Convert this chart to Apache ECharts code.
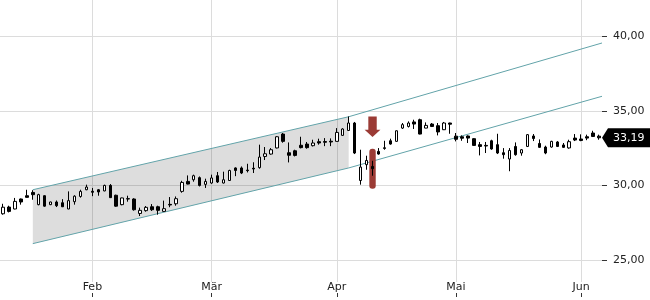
<!DOCTYPE html>
<html><head><meta charset="utf-8">
<script src="https://cdn.jsdelivr.net/npm/echarts@6/dist/echarts.min.js"></script>
<style>html,body{margin:0;padding:0;background:#fff}#c{width:650px;height:300px}</style>
</head><body><div id="c"></div>
<script>
// Trading days (category axis)
const dates = [
 '2025-01-13','2025-01-14','2025-01-15','2025-01-16','2025-01-17','2025-01-20','2025-01-21','2025-01-22','2025-01-23','2025-01-24',
 '2025-01-27','2025-01-28','2025-01-29','2025-01-30','2025-01-31',
 '2025-02-03','2025-02-04','2025-02-05','2025-02-06','2025-02-07','2025-02-10','2025-02-11','2025-02-12','2025-02-13','2025-02-14',
 '2025-02-17','2025-02-18','2025-02-19','2025-02-20','2025-02-21','2025-02-24','2025-02-25','2025-02-26','2025-02-27','2025-02-28',
 '2025-03-03','2025-03-04','2025-03-05','2025-03-06','2025-03-07','2025-03-10','2025-03-11','2025-03-12','2025-03-13','2025-03-14',
 '2025-03-17','2025-03-18','2025-03-19','2025-03-20','2025-03-21','2025-03-24','2025-03-25','2025-03-26','2025-03-27','2025-03-28','2025-03-31',
 '2025-04-01','2025-04-02','2025-04-03','2025-04-04','2025-04-07','2025-04-08','2025-04-09','2025-04-10','2025-04-11','2025-04-14',
 '2025-04-15','2025-04-16','2025-04-17','2025-04-22','2025-04-23','2025-04-24','2025-04-25','2025-04-28','2025-04-29','2025-04-30',
 '2025-05-02','2025-05-05','2025-05-06','2025-05-07','2025-05-08','2025-05-09','2025-05-12','2025-05-13','2025-05-14','2025-05-15',
 '2025-05-16','2025-05-19','2025-05-20','2025-05-21','2025-05-22','2025-05-23','2025-05-26','2025-05-27','2025-05-28','2025-05-29','2025-05-30',
 '2025-06-02','2025-06-03','2025-06-04','2025-06-05'
];
const open = [
 28.10,28.55,28.42,29.09,29.31,29.53,28.71,29.31,28.71,28.89,
 28.84,28.42,28.91,29.26,29.71,29.61,29.71,29.63,30.00,29.34,
 28.71,29.11,29.09,28.12,28.31,28.57,28.57,28.26,28.73,28.77,
 29.60,30.27,30.38,30.52,30.07,30.16,30.65,30.16,30.33,31.17,
 31.17,31.03,31.15,31.19,31.94,32.10,32.51,33.44,32.19,32.32,
 32.69,32.77,32.66,32.93,32.94,32.96,32.95,33.35,33.68,34.18,
 30.33,31.39,31.27,32.28,32.52,32.99,32.95,33.84,33.95,34.25,
 34.40,33.84,34.11,34.00,33.73,34.18,33.30,33.26,33.31,33.13,
 32.73,32.68,32.99,32.73,32.19,31.77,32.61,32.17,32.61,33.31,
 32.81,32.57,32.57,32.91,32.71,32.51,33.17,33.11,33.26,33.51,
 33.30
];
const close = [
 28.54,28.26,28.93,28.89,29.20,29.38,29.38,28.61,28.89,28.64,
 28.57,28.98,29.28,29.60,29.89,29.54,29.56,30.00,29.18,28.61,
 29.16,29.09,28.37,28.33,28.53,28.37,28.33,28.44,28.69,29.11,
 30.20,30.09,30.65,30.00,30.27,30.50,30.23,30.38,31.00,31.00,
 30.83,30.99,31.10,31.90,32.12,32.39,33.26,32.95,32.02,32.01,
 32.53,32.53,32.84,32.84,32.89,32.91,33.55,33.78,34.18,32.17,
 31.23,31.67,31.12,32.10,32.48,32.77,33.66,34.07,34.18,34.11,
 33.44,34.02,33.95,33.58,34.18,34.10,33.09,33.16,33.17,32.68,
 32.61,32.64,32.44,32.17,32.06,32.34,32.06,32.39,33.40,33.14,
 32.55,32.17,32.95,32.61,32.55,32.93,33.04,33.01,33.17,33.28,
 33.19
];
const low = [
 28.04,28.19,28.40,28.71,29.18,29.04,28.67,28.57,28.68,28.55,
 28.55,28.41,28.71,29.18,29.68,29.28,29.31,29.61,29.16,28.57,
 28.67,28.91,28.31,27.95,28.24,28.29,28.04,28.24,28.54,28.64,
 29.51,30.07,30.25,29.93,29.83,30.11,30.16,30.13,30.31,30.62,
 30.76,30.87,30.83,31.12,31.70,32.06,32.48,32.86,31.54,31.94,
 32.48,32.46,32.61,32.73,32.63,32.63,32.95,33.33,33.66,32.10,
 30.05,31.05,30.65,32.06,32.39,32.73,32.93,33.78,33.88,33.78,
 33.42,33.83,33.91,33.35,33.71,33.46,32.95,32.99,32.84,32.66,
 32.01,32.17,32.39,32.10,31.79,30.95,31.99,31.99,32.57,32.97,
 32.51,32.09,32.53,32.57,32.51,32.46,32.97,32.96,33.03,33.24,
 33.06
];
const high = [
 28.77,28.64,29.16,29.12,29.71,29.68,29.44,29.34,28.91,28.99,
 29.08,29.60,29.34,29.71,30.05,29.83,29.76,30.05,30.09,29.38,
 29.18,29.31,29.14,28.51,28.62,28.75,28.64,28.98,29.22,29.26,
 30.31,30.67,30.72,30.60,30.45,30.72,30.90,30.92,31.05,31.21,
 31.27,31.45,31.55,32.73,32.57,32.50,33.30,33.51,32.88,32.39,
 33.26,32.91,33.06,33.13,33.17,33.15,33.84,33.83,34.62,34.25,
 32.39,31.99,31.65,32.50,32.99,33.13,33.68,34.18,34.29,34.40,
 34.47,34.22,34.18,34.18,34.25,34.20,33.51,33.35,33.35,33.17,
 32.91,32.91,33.06,33.46,32.50,32.50,32.88,32.44,33.44,33.44,
 33.08,32.66,32.99,32.97,32.84,33.06,33.44,33.42,33.40,33.66,
 33.40
];
const monthNames = {'01':'Jan','02':'Feb','03':'Mär','04':'Apr','05':'Mai','06':'Jun'};
const yTickValues = [25, 30, 35, 40];
// trend channel: x in trading-day index units (100.5 = right edge)
const channelX = [5, 58, 100.5];
const channelUpper = [29.71, 34.60, 39.54];
const channelLower = [26.10, 31.17, 35.97];
const shadeEndIdx = 1; // shaded between channelX[0] and channelX[1]
// signal marker
const signalDate = '2025-04-09';
const signalArrow = [34.62, 33.24]; // top, tip
const signalBar = [32.46, 29.78];   // top, bottom
const lastPrice = close[close.length - 1];

const FONT = 'DejaVu Sans';
const isMonthStart = (i) => i > 0 && dates[i].slice(5, 7) !== dates[i - 1].slice(5, 7);
const monthStarts = dates.filter((d, i) => isMonthStart(i));

const chart = echarts.init(document.getElementById('c'), null, {renderer: 'canvas'});
const option = {
  animation: false,
  grid: {left: 0, right: 48, top: 0, bottom: 18, containLabel: false},
  xAxis: [{
    type: 'category', data: dates, boundaryGap: true, offset: 11,
    axisLine: {show: false, onZero: false},
    axisTick: {show: true, alignWithLabel: true, length: 4, interval: (i) => isMonthStart(i), lineStyle: {color: '#333'}},
    axisLabel: {interval: (i) => isMonthStart(i), inside: true, margin: 0, color: '#222', fontSize: 11, fontFamily: FONT,
      formatter: (v) => monthNames[v.slice(5, 7)]},
    splitLine: {show: false}
  }, {
    type: 'value', min: -0.5, max: dates.length - 0.5, show: false, splitLine: {show: false},
    axisLine: {onZero: false}
  }],
  yAxis: [{
    type: 'value', position: 'right', min: 23.53, max: 42.42, scale: true,
    axisLine: {show: false, onZero: false},
    axisTick: {show: true, length: 5, customValues: yTickValues, lineStyle: {color: '#333'}},
    axisLabel: {customValues: yTickValues, margin: 11, color: '#222', fontSize: 11, fontFamily: FONT,
      formatter: (v) => v.toFixed(2).replace('.', ',')},
    splitLine: {show: true, lineStyle: {color: '#dcdcdc', width: 1}}
  }],
  series: [
    {
      type: 'custom', name: 'shade', xAxisIndex: 1, yAxisIndex: 0, z: 1.5, silent: true,
      data: [[channelX[0], channelLower[0]]],
      renderItem: (params, api) => {
        const j = shadeEndIdx;
        const pts = [
          api.coord([channelX[0], channelUpper[0]]),
          api.coord([channelX[j], channelUpper[j]]),
          api.coord([channelX[j], channelLower[j]]),
          api.coord([channelX[0], channelLower[0]])
        ];
        return {type: 'polygon', shape: {points: pts}, style: {fill: 'rgba(0,0,0,0.135)'}};
      }
    },
    {
      type: 'line', name: 'upper', xAxisIndex: 1, yAxisIndex: 0, z: 2.5, silent: true,
      data: channelX.map((x, i) => [x, channelUpper[i]]),
      symbol: 'none', lineStyle: {color: '#62a3a9', width: 1}
    },
    {
      type: 'line', name: 'lower', xAxisIndex: 1, yAxisIndex: 0, z: 2.5, silent: true,
      data: channelX.map((x, i) => [x, channelLower[i]]),
      symbol: 'none', lineStyle: {color: '#62a3a9', width: 1}
    },
    {
      type: 'custom', name: 'signal', xAxisIndex: 0, yAxisIndex: 0, z: 2.8, silent: true,
      data: [[signalDate, signalArrow[0], signalArrow[1], signalBar[0], signalBar[1]]],
      renderItem: (params, api) => {
        const xi = api.value(0);
        const a0 = api.coord([xi, api.value(1)]);
        const a1 = api.coord([xi, api.value(2)]);
        const b0 = api.coord([xi, api.value(3)]);
        const b1 = api.coord([xi, api.value(4)]);
        const x = a0[0], head = 7.3, sw = 4.2, hw = 7.9, col = '#9b3b35';
        return {type: 'group', children: [
          {type: 'polygon', shape: {points: [[x - sw, a0[1]], [x + sw, a0[1]], [x + sw, a1[1] - head], [x + hw, a1[1] - head],
            [x, a1[1]], [x - hw, a1[1] - head], [x - sw, a1[1] - head]]}, style: {fill: col}},
          {type: 'rect', shape: {x: x - 3.2, y: b0[1], width: 6.4, height: b1[1] - b0[1], r: 3}, style: {fill: col}}
        ]};
      }
    },
    {
      type: 'candlestick', name: 'kurs', xAxisIndex: 0, yAxisIndex: 0, z: 3,
      barWidth: 3,
      data: dates.map((d, i) => [open[i], close[i], low[i], high[i]]),
      itemStyle: {color: '#ffffff', color0: '#000000', borderColor: '#000000', borderColor0: '#000000', borderWidth: 1},
      emphasis: {disabled: true},
      markLine: {
        silent: true, z: 1, symbol: ['none', 'none'], label: {show: false},
        lineStyle: {color: '#dcdcdc', type: 'solid', width: 1},
        data: monthStarts.map((d) => ({xAxis: d}))
      }
    }
  ]
};
chart.setOption(option);

const yc = chart.convertToPixel({yAxisIndex: 0}, lastPrice);
const xr = chart.convertToPixel({xAxisIndex: 1}, dates.length - 0.5);
chart.setOption({
  graphic: [
    {type: 'polygon', z: 10, shape: {points: [[xr, yc], [xr + 6, yc - 9.5], [650, yc - 9.5], [650, yc + 9.5], [xr + 6, yc + 9.5]]},
      style: {fill: '#000'}},
    {type: 'text', z: 11, x: xr + 11, y: yc,
      style: {text: lastPrice.toFixed(2).replace('.', ','), fill: '#fff', font: '11px "DejaVu Sans"', verticalAlign: 'middle', align: 'left'}}
  ]
});
</script>
</body></html>
